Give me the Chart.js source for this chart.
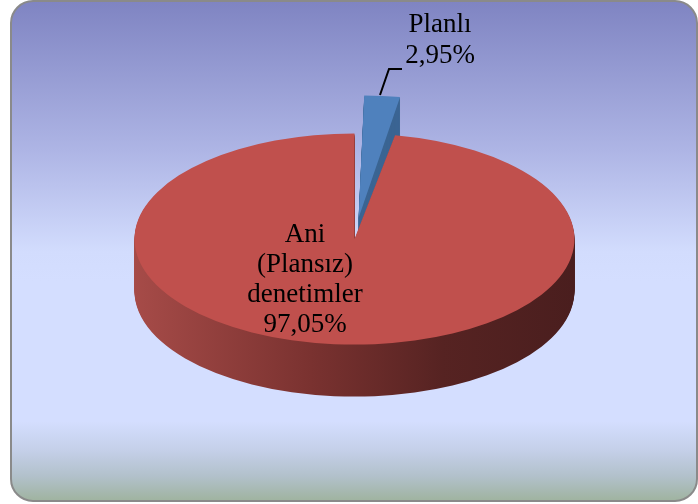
<!DOCTYPE html>
<html>
<head>
<meta charset="utf-8">
<script src="https://cdn.jsdelivr.net/npm/chart.js@4.4.1/dist/chart.umd.min.js"></script>
<style>
  html, body { margin: 0; padding: 0; background: #ffffff; }
  #wrap { width: 698px; height: 504px; position: relative; }
</style>
</head>
<body>
<div id="wrap"><canvas id="c" width="698" height="504"></canvas></div>
<script>
// Inspection types and their share of all inspections (%)
const categories = ['Planlı', 'Ani (Plansız) denetimler'];
const labelLines = [['Planlı'], ['Ani', '(Plansız)', 'denetimler']];
const shares = [2.95, 97.05];
const topColors = ['#4f81bd', '#c0504d'];
const explode = [175, 0];

// 3D look: vertical squash of the pie and thickness of the disc
const TILT = 0.48;
const DEPTH = 52;

function pct(v) {
  return v.toFixed(2).replace('.', ',') + '%';
}

function squash(ctx, cy) {
  ctx.translate(0, cy);
  ctx.scale(1, TILT);
  ctx.translate(0, -cy);
}

const backdrop = {
  id: 'backdrop',
  beforeDraw(chart) {
    const ctx = chart.ctx;
    const x0 = 11, y0 = 1, x1 = 697, y1 = 501, r = 22;
    ctx.save();
    const g = ctx.createLinearGradient(0, y0, 0, y1);
    g.addColorStop(0.00, '#7f84c2');
    g.addColorStop(0.30, '#aeb5e5');
    g.addColorStop(0.50, '#d2dcfd');
    g.addColorStop(0.56, '#d4deff');
    g.addColorStop(0.84, '#d4deff');
    g.addColorStop(0.90, '#c4cfe8');
    g.addColorStop(0.95, '#b2c1cb');
    g.addColorStop(1.00, '#9fb39f');
    ctx.beginPath();
    ctx.roundRect(x0, y0, x1 - x0, y1 - y0, r);
    ctx.fillStyle = g;
    ctx.fill();
    ctx.lineWidth = 2;
    ctx.strokeStyle = '#8a8a8a';
    ctx.stroke();
    ctx.restore();
  }
};

const tilt3d = {
  id: 'tilt3d',
  beforeDatasetsDraw(chart) {
    const ctx = chart.ctx;
    const arcs = chart.getDatasetMeta(0).data;
    const cx = arcs[0].x, R = arcs[0].outerRadius;
    const redSide = ctx.createLinearGradient(cx - R, 0, cx + R, 0);
    redSide.addColorStop(0.00, '#a64b48');
    redSide.addColorStop(0.40, '#7a3230');
    redSide.addColorStop(0.70, '#562322');
    redSide.addColorStop(1.00, '#4a1e1e');
    const sides = ['#3b6593', redSide];
    arcs.forEach((arc, i) => {
      const ghost = Object.create(arc);
      ghost.options = Object.assign({}, arc.options, { backgroundColor: sides[i], borderWidth: 0 });
      for (let d = DEPTH; d >= 1; d--) {
        ctx.save();
        ctx.translate(0, d);
        squash(ctx, arc.y);
        ghost.draw(ctx);
        ctx.restore();
      }
    });
    ctx.save();
    squash(ctx, arcs[0].y);
  },
  afterDatasetsDraw(chart) {
    const ctx = chart.ctx;
    ctx.restore();
    ctx.save();
    ctx.fillStyle = '#000000';
    ctx.textAlign = 'center';
    ctx.textBaseline = 'alphabetic';
    ctx.font = '27px "Liberation Serif", serif';
    // small slice label with leader line
    const blue = labelLines[0].concat([pct(shares[0])]);
    blue.forEach((t, k) => ctx.fillText(t, 440, 32 + k * 31));
    ctx.beginPath();
    ctx.moveTo(380, 95);
    ctx.lineTo(389, 69);
    ctx.lineTo(402, 69);
    ctx.lineWidth = 2;
    ctx.strokeStyle = '#000000';
    ctx.stroke();
    // large slice label inside the disc
    const red = labelLines[1].concat([pct(shares[1])]);
    red.forEach((t, k) => ctx.fillText(t, 305, 242 + k * 30));
    ctx.restore();
  }
};

new Chart(document.getElementById('c'), {
  type: 'pie',
  data: {
    labels: categories,
    datasets: [{
      data: shares,
      backgroundColor: topColors,
      borderWidth: 0,
      offset: explode
    }]
  },
  options: {
    responsive: false,
    animation: false,
    events: [],
    radius: 220,
    layout: { padding: { left: 11, right: 0, top: 0, bottom: 26 } },
    plugins: {
      legend: { display: false },
      tooltip: { enabled: false }
    }
  },
  plugins: [backdrop, tilt3d]
});
</script>
</body>
</html>
